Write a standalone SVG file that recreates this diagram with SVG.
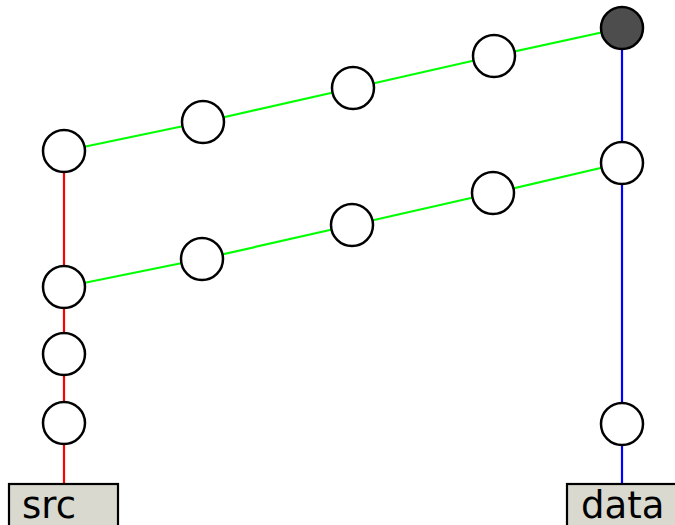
<svg xmlns="http://www.w3.org/2000/svg" width="675" height="525" viewBox="0 0 675 525">
<style>
.n{fill:#fff;stroke:#000;stroke-width:2.5}
.f{fill:#4d4d4d;stroke:#000;stroke-width:2.5}
.r{stroke:#ff0000;stroke-width:2.2;fill:none}
.b{stroke:#0000ff;stroke-width:2.2;fill:none}
.g{stroke:#00ff00;stroke-width:2.2;fill:none}
.box{fill:#d9d9cf;stroke:#000;stroke-width:2.2}
text{font-family:"DejaVu Sans",sans-serif;font-size:37px;fill:#000}
</style>
<rect width="675" height="525" fill="#fff"/>
<g id="connectors">
<line class="r" x1="64" y1="151" x2="64" y2="485"/>
<line class="b" x1="622" y1="28" x2="622" y2="485"/>
<polyline class="g" points="64,151 203,122 353,88 494,56 622,28"/>
<polyline class="g" points="64,287 202,259 352,225 493,193 622,163"/>
</g>
<g id="src"><rect class="box" x="9" y="484" width="109" height="45"/><text x="22" y="518">src</text></g>
<g id="data"><rect class="box" x="567" y="484" width="112" height="45"/><text x="581" y="518">data</text></g>
<g id="a1"><circle class="n" cx="64" cy="151" r="21"/></g>
<g id="a2"><circle class="n" cx="203" cy="122" r="21"/></g>
<g id="a3"><circle class="n" cx="353" cy="88" r="21"/></g>
<g id="a4"><circle class="n" cx="494" cy="56" r="21"/></g>
<g id="top"><circle class="f" cx="622" cy="28" r="21"/></g>
<g id="b1"><circle class="n" cx="64" cy="287" r="21"/></g>
<g id="b2"><circle class="n" cx="202" cy="259" r="21"/></g>
<g id="b3"><circle class="n" cx="352" cy="225" r="21"/></g>
<g id="b4"><circle class="n" cx="493" cy="193" r="21"/></g>
<g id="b5"><circle class="n" cx="622" cy="163" r="21"/></g>
<g id="c1"><circle class="n" cx="64" cy="354" r="21"/></g>
<g id="c2"><circle class="n" cx="64" cy="423" r="21"/></g>
<g id="d1"><circle class="n" cx="622" cy="424" r="21"/></g>
</svg>
